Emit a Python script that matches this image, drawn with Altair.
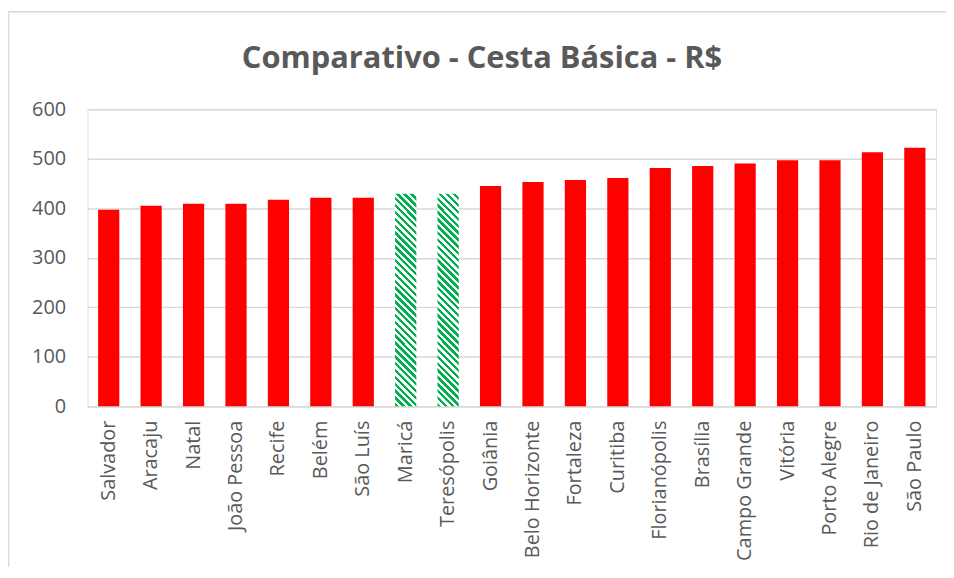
import altair as alt
import pandas as pd

cities = ["Salvador", "Aracaju", "Natal", "João Pessoa", "Recife", "Belém", "São Luís",
          "Maricá", "Teresópolis", "Goiânia", "Belo Horizonte", "Fortaleza", "Curitiba",
          "Florianópolis", "Brasília", "Campo Grande", "Vitória", "Porto Alegre",
          "Rio de Janeiro", "São Paulo"]
values = [397, 405, 409, 409, 417, 421, 421, 429, 429, 445, 453, 457, 461,
          481, 485, 490, 497, 497, 513, 522]
highlight = ["Maricá", "Teresópolis"]
y_ticks = [0, 100, 200, 300, 400, 500, 600]
title_text = "Comparativo - Cesta Básica - R$"

df = pd.DataFrame({"city": cities, "value": values})
df["hl"] = df["city"].isin(highlight)

W, H = 854, 299
FONT = "Open Sans"
GRAY = "#595959"

# diagonal hatch approximated with a hard-stop linear gradient
r = 0.1
k = 1.089
N = 34
stops = []
for i in range(N):
    a = i / N
    b = (i + 0.5) / N
    c = (i + 1) / N
    stops += [
        {"offset": a, "color": "#00B050"},
        {"offset": b, "color": "#00B050"},
        {"offset": b, "color": "#FFFFFF"},
        {"offset": c, "color": "#FFFFFF"},
    ]
hatch = {"gradient": "linear", "x1": 0, "y1": 1, "x2": r * k, "y2": 1 - k, "stops": stops}

x_enc = alt.X("city:N", sort=cities, title=None,
              scale=alt.Scale(paddingInner=0.5, paddingOuter=0.25),
              axis=alt.Axis(labelAngle=-90, labelFont=FONT, labelFontSize=20,
                            labelColor=GRAY, labelPadding=14, ticks=False,
                            domainColor="#D9D9D9", domainWidth=1.5, labelBaseline="middle",
                            labelAlign="right"))
y_enc = alt.Y("value:Q", title=None,
              scale=alt.Scale(domain=[0, 600], nice=False),
              axis=alt.Axis(values=y_ticks, labelFont=FONT, labelFontSize=20,
                            labelColor=GRAY, labelPadding=22, ticks=False, domain=False,
                            gridColor="#D9D9D9", gridWidth=1.5))

base = alt.Chart(df)
red = base.transform_filter("!datum.hl").mark_bar(color="#FF0000").encode(x=x_enc, y=y_enc)
green = base.transform_filter("datum.hl").mark_bar(fill=hatch).encode(x=x_enc, y=y_enc)

one = pd.DataFrame({"a": [0]})
border = alt.Chart(one).mark_rule(color="#D9D9D9", strokeWidth=1.5).encode(
    x=alt.value(-79.5), y=alt.value(-98), y2=alt.value(470))
border_top = alt.Chart(one).mark_rule(color="#D9D9D9", strokeWidth=1.5).encode(
    x=alt.value(-79.5), x2=alt.value(870), y=alt.value(-98))
title = alt.Chart(one).mark_text(
    text=title_text, font="Open Sans", fontSize=31, fontWeight="bold", color=GRAY,
    align="center", baseline="alphabetic").encode(x=alt.value(397), y=alt.value(-41))

chart = alt.layer(red, green, border, border_top, title).properties(
    width=W, height=H,
    autosize=alt.AutoSizeParams(type="none"),
    padding={"left": 80, "top": 100, "right": 10, "bottom": 160},
).configure_view(strokeWidth=0).configure(background="white")

chart.save("out.html", embed_options={"renderer": "svg", "actions": False})
